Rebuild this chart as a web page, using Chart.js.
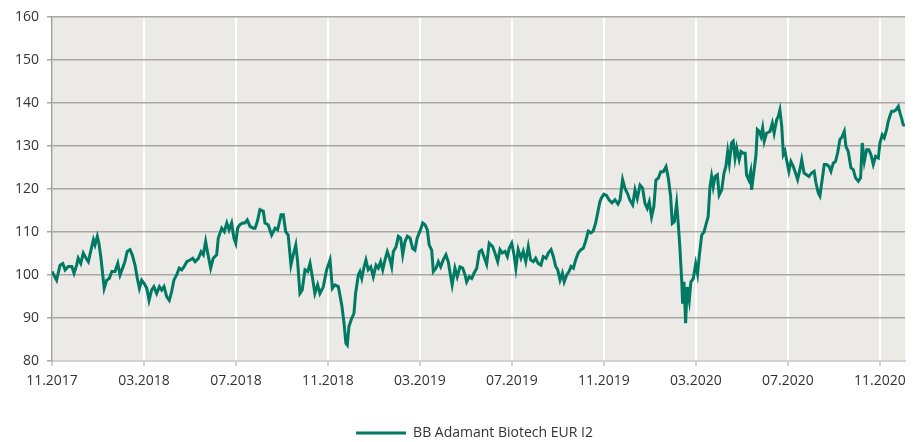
<!DOCTYPE html>
<html>
<head>
<meta charset="utf-8">
<script src="https://cdn.jsdelivr.net/npm/chart.js@4"></script>
<style>
  html, body { margin: 0; padding: 0; background: #fff; }
  #wrap { width: 921px; height: 442px; }
</style>
</head>
<body>
<div id="wrap"><canvas id="myChart"></canvas></div>
<script>
// months after 11.2017
const months = [
  0, 0.20, 0.35, 0.47, 0.57, 0.71, 0.86, 0.96, 1.07, 1.14, 1.25, 1.36, 1.48, 1.58, 1.73, 1.80, 1.87, 1.97, 2.04, 2.12,
  2.20, 2.27, 2.38, 2.49, 2.60, 2.74, 2.86, 2.96, 3.07, 3.17, 3.27, 3.39, 3.49, 3.61, 3.71, 3.80, 3.90, 4.01, 4.12, 4.22,
  4.33, 4.43, 4.55, 4.67, 4.77, 4.87, 4.99, 5.10, 5.20, 5.30, 5.42, 5.53, 5.64, 5.75, 5.86, 6.00, 6.12, 6.22, 6.36, 6.48,
  6.58, 6.68, 6.77, 6.90, 7.01, 7.16, 7.23, 7.38, 7.49, 7.60, 7.70, 7.81, 7.91, 7.99, 8.07, 8.17, 8.29, 8.39, 8.49, 8.61,
  8.75, 8.83, 8.93, 9.04, 9.19, 9.26, 9.40, 9.55, 9.70, 9.81, 9.96, 10.06, 10.16, 10.27, 10.39, 10.49, 10.60, 10.68, 10.78, 10.88,
  11.00, 11.12, 11.22, 11.32, 11.43, 11.55, 11.65, 11.80, 11.94, 12.09, 12.19, 12.30, 12.45, 12.60, 12.70, 12.78, 12.84, 12.91, 13.03, 13.13,
  13.20, 13.32, 13.39, 13.47, 13.57, 13.65, 13.75, 13.86, 13.97, 14.09, 14.19, 14.29, 14.38, 14.48, 14.58, 14.68, 14.77, 14.84, 14.96, 15.06,
  15.16, 15.25, 15.35, 15.45, 15.57, 15.68, 15.78, 15.88, 16.00, 16.12, 16.22, 16.32, 16.40, 16.51, 16.58, 16.70, 16.80, 16.90, 17.01, 17.13,
  17.23, 17.30, 17.40, 17.52, 17.62, 17.74, 17.86, 17.96, 18.03, 18.14, 18.25, 18.35, 18.47, 18.58, 18.68, 18.78, 18.90, 19.01, 19.16, 19.26,
  19.38, 19.48, 19.58, 19.70, 19.80, 19.88, 19.99, 20.09, 20.17, 20.27, 20.39, 20.49, 20.60, 20.71, 20.81, 20.93, 21.03, 21.14, 21.26, 21.36,
  21.48, 21.58, 21.70, 21.80, 21.90, 21.99, 22.09, 22.19, 22.27, 22.38, 22.48, 22.57, 22.67, 22.77, 22.88, 23.00, 23.10, 23.20, 23.32, 23.43,
  23.53, 23.64, 23.73, 23.83, 23.90, 24.00, 24.11, 24.22, 24.35, 24.48, 24.61, 24.70, 24.81, 24.91, 25.02, 25.13, 25.25, 25.35, 25.45, 25.57,
  25.68, 25.78, 25.88, 25.97, 26.07, 26.17, 26.26, 26.36, 26.47, 26.58, 26.70, 26.80, 26.90, 26.97, 27.06, 27.16, 27.23, 27.30, 27.38, 27.42,
  27.48, 27.55, 27.62, 27.71, 27.78, 27.88, 27.99, 28.07, 28.14, 28.25, 28.35, 28.47, 28.53, 28.61, 28.68, 28.75, 28.83, 28.93, 29.01, 29.12,
  29.22, 29.30, 29.38, 29.45, 29.55, 29.62, 29.70, 29.77, 29.88, 29.96, 30.06, 30.14, 30.20, 30.30, 30.38, 30.42, 30.52, 30.61, 30.67, 30.75,
  30.83, 30.90, 30.97, 31.07, 31.15, 31.22, 31.32, 31.40, 31.51, 31.58, 31.65, 31.73, 31.80, 31.87, 31.94, 32.04, 32.13, 32.23, 32.33, 32.42,
  32.52, 32.60, 32.70, 32.81, 32.91, 33.03, 33.14, 33.22, 33.32, 33.39, 33.49, 33.58, 33.68, 33.78, 33.87, 33.97, 34.07, 34.16, 34.26, 34.36,
  34.45, 34.52, 34.62, 34.74, 34.84, 34.94, 35.06, 35.16, 35.23, 35.32, 35.42, 35.52, 35.61, 35.71, 35.81, 35.93, 36.00, 36.10, 36.19, 36.29,
  36.36, 36.43, 36.51, 36.61, 36.70, 36.80, 36.87, 36.94, 37.01, 37.09
];

const values = [
  100.8, 98.8, 102.3, 102.7, 101.2, 102.0, 102.0, 100.4, 102.3, 103.9, 102.7, 105.1, 103.9, 103.1, 106.6, 108.2, 107.0, 109.0, 107.4, 104.3,
  100.4, 96.9, 98.8, 99.2, 100.8, 100.8, 102.7, 100.0, 101.6, 103.1, 105.5, 105.9, 104.7, 102.3, 99.2, 96.9, 98.8, 98.0, 96.9, 94.1,
  96.5, 97.3, 95.7, 97.3, 96.5, 97.3, 94.9, 94.1, 96.1, 98.8, 100.0, 101.6, 101.2, 102.0, 103.1, 103.5, 103.9, 103.1, 103.8, 105.4,
  104.7, 107.8, 105.1, 101.6, 103.9, 104.7, 108.6, 110.9, 110.1, 112.1, 110.5, 112.1, 108.6, 107.4, 110.9, 111.7, 112.1, 112.1, 112.8, 111.3,
  110.9, 110.9, 112.5, 115.2, 114.8, 112.1, 111.7, 109.3, 110.9, 110.5, 114.0, 114.0, 110.1, 109.3, 102.3, 104.7, 107.0, 103.1, 95.7, 96.5,
  101.2, 100.8, 102.7, 99.6, 95.7, 97.7, 95.7, 97.3, 101.2, 103.5, 96.9, 97.7, 97.3, 93.0, 88.7, 84.1, 83.7, 88.0, 89.9, 91.1,
  95.7, 100.0, 100.8, 99.2, 101.9, 103.5, 101.2, 101.9, 99.6, 102.3, 101.6, 103.1, 101.2, 103.5, 105.4, 103.9, 101.9, 105.4, 106.6, 109.0,
  108.6, 104.7, 107.8, 109.0, 108.6, 106.2, 105.8, 108.6, 110.2, 112.1, 111.7, 110.5, 107.0, 105.8, 100.8, 101.6, 103.1, 101.9, 103.5, 104.7,
  103.1, 100.8, 97.7, 101.6, 99.6, 101.9, 101.6, 100.0, 98.4, 99.6, 99.2, 100.4, 101.6, 105.4, 105.8, 104.3, 102.5, 107.4, 106.6, 105.1,
  103.1, 105.9, 105.1, 105.5, 104.3, 106.2, 107.4, 104.7, 101.6, 105.9, 103.9, 105.5, 103.1, 106.6, 103.5, 103.1, 103.9, 102.7, 102.3, 104.3,
  103.9, 105.1, 105.9, 104.3, 102.0, 101.2, 98.8, 100.4, 98.4, 100.0, 100.8, 102.0, 101.6, 103.5, 105.1, 105.9, 106.2, 107.8, 110.2, 109.8,
  110.2, 112.1, 114.5, 117.2, 118.0, 118.8, 118.5, 117.5, 116.8, 117.5, 116.5, 117.5, 122.2, 120.2, 119.0, 117.4, 116.3, 119.8, 117.8, 120.9,
  120.2, 116.7, 115.5, 117.0, 113.5, 115.9, 122.1, 122.5, 124.0, 124.0, 125.2, 122.5, 118.2, 112.0, 112.4, 116.7, 112.0, 106.5, 98.8, 93.3,
  98.4, 88.8, 97.2, 94.1, 98.4, 99.1, 102.6, 100.3, 104.2, 109.3, 110.0, 112.4, 113.5, 120.5, 122.9, 120.5, 122.9, 123.3, 118.6, 119.8,
  123.7, 125.2, 128.7, 126.0, 130.7, 131.1, 127.2, 129.5, 126.8, 128.7, 128.3, 128.3, 123.3, 122.1, 124.0, 119.8, 124.0, 127.9, 133.8, 133.4,
  132.2, 134.2, 131.1, 133.0, 133.2, 133.4, 135.3, 133.0, 136.1, 136.9, 138.4, 134.6, 128.0, 128.8, 126.8, 124.1, 126.4, 125.3, 123.7, 122.2,
  124.5, 126.8, 123.7, 123.3, 122.9, 123.7, 124.1, 121.4, 119.1, 118.4, 122.2, 125.7, 125.7, 125.3, 124.1, 126.0, 126.4, 128.4, 131.5, 132.2,
  133.4, 129.9, 128.8, 124.9, 124.5, 122.6, 121.8, 122.6, 130.7, 126.4, 129.1, 129.1, 128.0, 125.7, 127.6, 127.2, 130.7, 132.6, 131.9, 133.8,
  135.7, 136.9, 138.1, 138.1, 138.4, 139.2, 137.7, 136.5, 135.0, 134.7
];

// x ticks: every 4 months
const tickMonths = [0, 4, 8, 12, 16, 20, 24, 28, 32, 36];
const tickLabels = ['11.2017', '03.2018', '07.2018', '11.2018', '03.2019', '07.2019', '11.2019', '03.2020', '07.2020', '11.2020'];
const seriesName = 'BB Adamant Biotech EUR I2';

const green = '#007a63';
const points = months.map((m, i) => ({ x: m, y: values[i] }));

const plotBg = {
  id: 'plotBg',
  beforeDraw(chart) {
    const { ctx, chartArea: { left, top, width, height } } = chart;
    ctx.save();
    ctx.fillStyle = '#ebeae7';
    ctx.fillRect(left, top, width, height);
    ctx.restore();
  }
};

// legend sits a bit right of and below where chart.js puts it
const legendShift = {
  id: 'legendShift',
  afterLayout(chart) {
    const lg = chart.legend;
    lg.left += 22;
    lg.right += 22;
    lg.top += 8;
    lg.bottom += 8;
  }
};

Chart.defaults.font.family = "'Open Sans', 'Noto Sans', sans-serif";
Chart.defaults.font.size = 14;
Chart.defaults.color = '#333';

var chart1 = new Chart(document.getElementById('myChart'), {
  type: 'line',
  data: {
    datasets: [{
      label: seriesName,
      data: points,
      borderColor: green,
      backgroundColor: green,
      borderWidth: 3,
      pointRadius: 0,
      pointStyle: 'line',
      tension: 0
    }]
  },
  options: {
    responsive: true,
    maintainAspectRatio: false,
    animation: false,
    layout: { padding: { top: 17, right: 16, left: 0, bottom: 0 } },
    plugins: {
      legend: {
        position: 'bottom',
        labels: { usePointStyle: true, pointStyleWidth: 50, padding: 0, color: '#333' }
      },
      tooltip: { enabled: false }
    },
    scales: {
      x: {
        type: 'linear',
        min: 0,
        max: months[months.length - 1],
        afterBuildTicks(scale) {
          scale.ticks = tickMonths.map(v => ({ value: v }));
        },
        afterFit(scale) { scale.height = 57; },
        ticks: {
          autoSkip: false,
          maxRotation: 0,
          padding: 7,
          callback: (v) => tickLabels[tickMonths.indexOf(v)]
        },
        grid: { color: '#ffffff', lineWidth: 2, tickColor: '#d2d1cf', tickLength: 5 },
        border: { color: '#d2d1cf', width: 2 }
      },
      y: {
        min: 80,
        max: 160,
        afterFit(scale) { scale.width = 52; },
        ticks: { stepSize: 10, padding: 8 },
        grid: { color: '#a9a7a4', lineWidth: 1.5, tickColor: '#a9a7a4', tickLength: 5 },
        border: { color: '#a09e9b', width: 1.5 }
      }
    }
  },
  plugins: [plotBg, legendShift]
});
</script>
</body>
</html>
